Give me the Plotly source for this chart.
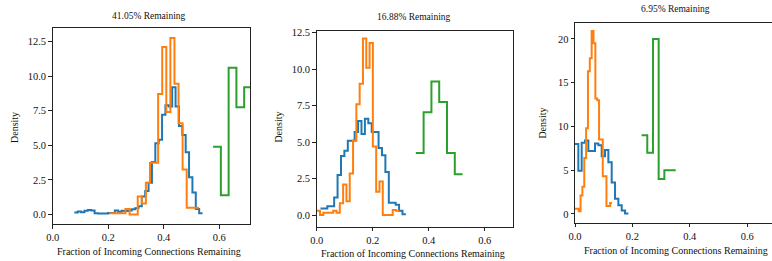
import numpy as np
import plotly.graph_objects as go

# ---------------- data ----------------
titles = ["41.05% Remaining", "16.88% Remaining", "6.95% Remaining"]
x_label = "Fraction of Incoming Connections Remaining"
y_label = "Density"
x_ticks = [0.0, 0.2, 0.4, 0.6]
x_tick_text = ["0.0", "0.2", "0.4", "0.6"]
y_ticks_1 = [0.0, 2.5, 5.0, 7.5, 10.0, 12.5]
y_tick_text_1 = ["0.0", "2.5", "5.0", "7.5", "10.0", "12.5"]
y_ticks_3 = [0, 5, 10, 15, 20]
y_tick_text_3 = ["0", "5", "10", "15", "20"]

# panel 1 (41.05%)
p1_blue_bins = (0.078, 0.540)
p1_blue = [0.15, 0.22, 0.17, 0.28, 0.33, 0.3, 0.1, 0.08, 0.08, 0.08,
           0.12, 0.12, 0.3, 0.2, 0.27, 0.25, 0.3, 0.38, 0.45, 0.6,
           1.3, 1.7, 2.3, 3.8, 5.15, 5.4, 7.2, 7.9, 7.8, 9.2,
           7.8, 6.4, 5.75, 4.5, 2.7, 1.6, 0.4, 0.1]
p1_orange_bins = (0.2035, 0.527)
p1_orange = [0.1, 0.1, 0.1, 0.1, 0.4, 0.0, 0.0, 1.3, 0.8, 2.3, 3.75,
             3.75, 8.7, 12.1, 7.4, 12.75, 9.45, 6.6, 3.25, 0.5, 0.5, 0.5]
p1_green_bins = (0.578, 0.718)
p1_green = [4.9, 1.4, 10.6, 7.75, 9.2]

# panel 2 (16.88%)
p2_blue_bins = (0.0135, 0.3185)
p2_blue = [0.45, 0.45, 0.6, 0.6, 1.2, 2.75, 4.05, 4.4, 5.1, 5.1,
           5.7, 6.45, 5.55, 6.6, 6.3, 5.7, 5.7, 4.6, 4.1, 2.95,
           0.85, 0.85, 0.7, 0.3, 0.05]
p2_orange_bins = (0.0, 0.295)
p2_orange = [0.3, 0.0, 0.15, 0.15, 0.15, 0.3, 0.15, 0.8, 2.1, 0.95,
             2.85, 5.1, 7.6, 9.0, 12.1, 10.1, 11.8, 4.7, 1.6, 2.3,
             0.0, 0.0, 0.0, 0.35, 0.3]
p2_green_bins = (0.354, 0.521)
p2_green = [4.25, 7.05, 9.15, 7.75, 4.25, 2.8]

# panel 3 (6.95%)
p3_blue_bins = (0.0, 0.186)
p3_blue = [8.0, 4.95, 8.15, 8.4, 7.2, 7.2, 8.05, 7.85, 6.6, 7.3,
           5.9, 3.6, 1.75, 1.0, 0.4, 0.05]
p3_orange_bins = (0.0, 0.129)
p3_orange = [0.6, 0.6, 0.3, 2.1, 3.1, 6.4, 9.8, 16.3, 17.8, 20.9,
             19.5, 13.2, 13.0, 8.5, 8.5, 4.3, 4.3, 0.9, 0.9, 1.25]
p3_green_bins = (0.232, 0.351)
p3_green = [9.0, 7.0, 20.0, 4.0, 5.0, 5.0]

# ---------------- figure ----------------
W, H = 772, 261
BLUE, ORANGE, GREEN = "#1f77b4", "#ff7f0e", "#2ca02c"
FONT = "Liberation Serif, Times New Roman, serif"


def fx(px):
    return px / W


def fy(py):
    return 1 - py / H


def step_trace(bins, heights, color, xa, ya):
    edges = np.linspace(bins[0], bins[1], len(heights) + 1)
    ys = list(heights) + [heights[-1]]
    return go.Scatter(x=edges, y=ys, mode="lines", line=dict(color=color, width=2, shape="hv"),
                      xaxis=xa, yaxis=ya, showlegend=False, hoverinfo="skip")


fig = go.Figure()
panels = [
    ((p1_blue_bins, p1_blue), (p1_orange_bins, p1_orange), (p1_green_bins, p1_green)),
    ((p2_blue_bins, p2_blue), (p2_orange_bins, p2_orange), (p2_green_bins, p2_green)),
    ((p3_blue_bins, p3_blue), (p3_orange_bins, p3_orange), (p3_green_bins, p3_green)),
]
for i, series in enumerate(panels):
    xa = "x" if i == 0 else f"x{i+1}"
    ya = "y" if i == 0 else f"y{i+1}"
    for (bins, h), c in zip(series, [BLUE, ORANGE, GREEN]):
        fig.add_trace(step_trace(bins, h, c, xa, ya))

# pixel geometry of each axes box: (left, right, top, bottom)
boxes = [(52.7, 250.0, 28.3, 224.0), (316.7, 513.0, 30.5, 226.7), (575.0, 772.0, 22.7, 222.7)]
x_ranges = [[0, 0.711], [0, 0.701], [0, 0.6864]]
y_ranges = [[-0.68, 13.45], [-0.80, 12.65], [-1.0, 21.86]]

axis_common = dict(showgrid=False, zeroline=False, showline=True, linecolor="#222",
                   linewidth=1, ticks="outside", ticklen=3.5, tickwidth=0.8, automargin=False,
                   tickcolor="#222", tickfont=dict(family=FONT, size=10.5, color="#111"))

layout = dict(width=W, height=H, margin=dict(l=0, r=0, t=0, b=0, autoexpand=False),
              template="none",
              paper_bgcolor="white", plot_bgcolor="white", showlegend=False)
for i, (box, xr, yr) in enumerate(zip(boxes, x_ranges, y_ranges)):
    l, r, t, b = box
    xk = "xaxis" if i == 0 else f"xaxis{i+1}"
    yk = "yaxis" if i == 0 else f"yaxis{i+1}"
    xanchor = "y" if i == 0 else f"y{i+1}"
    yanchor = "x" if i == 0 else f"x{i+1}"
    layout[xk] = dict(axis_common, domain=[fx(l), min(1.0, fx(r))], range=xr, anchor=xanchor,
                      tickvals=x_ticks, ticktext=x_tick_text, mirror=True)
    if i == 2:
        yt, ytt = y_ticks_3, y_tick_text_3
    else:
        yt, ytt = y_ticks_1, y_tick_text_1
    layout[yk] = dict(axis_common, domain=[fy(b), fy(t)], range=yr, anchor=yanchor,
                      tickvals=yt, ticktext=ytt, mirror=(i != 2))
fig.update_layout(**layout)

# text: titles, axis labels
title_pos = [(149.3, 16.0), (414.0, 16.7), (675.0, 9.3)]
xlabel_pos = [(149.0, 251.7), (413.0, 253.0), (675.5, 250.7)]
ylabel_pos = [(14.3, 127.7), (278.3, 127.3), (542.3, 123.3)]
for i in range(3):
    fig.add_annotation(text=titles[i], x=fx(title_pos[i][0]), y=fy(title_pos[i][1]),
                       xref="paper", yref="paper", showarrow=False, xanchor="center", yanchor="middle",
                       font=dict(family=FONT, size=9.5, color="#111"))
    fig.add_annotation(text=x_label, x=fx(xlabel_pos[i][0]), y=fy(xlabel_pos[i][1]),
                       xref="paper", yref="paper", showarrow=False, xanchor="center", yanchor="middle",
                       font=dict(family=FONT, size=10, color="#111"))
    fig.add_annotation(text=y_label, x=fx(ylabel_pos[i][0]), y=fy(ylabel_pos[i][1]),
                       xref="paper", yref="paper", showarrow=False, xanchor="center", yanchor="middle",
                       textangle=-90, font=dict(family=FONT, size=10, color="#111"))

fig.write_html("out.html", config={"displayModeBar": False},
               post_script="document.body.style.margin='0';")
